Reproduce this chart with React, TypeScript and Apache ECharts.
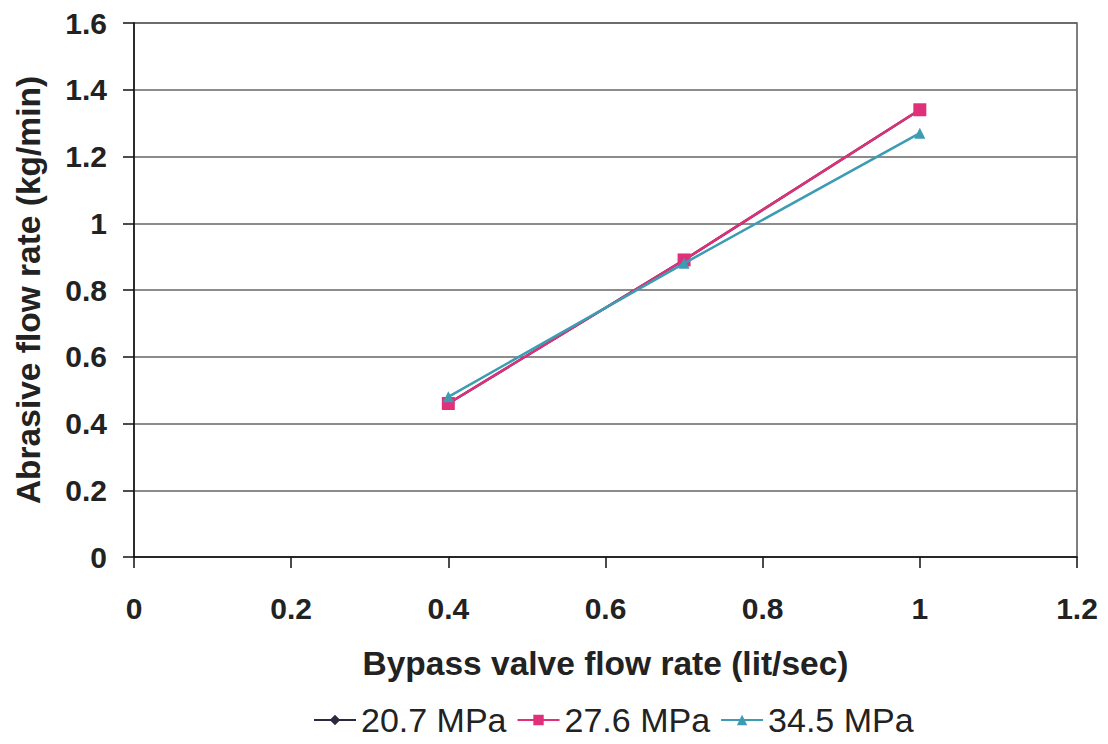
import React, { useEffect, useRef } from "react";
import * as echarts from "echarts";

const seriesNames = ["20.7 MPa", "27.6 MPa", "34.5 MPa"];
const xValues = [0.4, 0.7, 1.0];
const s207 = [0.46, 0.89, 1.34];
const s276 = [0.46, 0.89, 1.34];
const s345 = [0.48, 0.88, 1.27];

const colors = ["#2a2a3c", "#e0307a", "#3c9cb4"];
const symbols = ["diamond", "rect", "triangle"];
const symbolSizes = [11, 13, 11];

export default function App() {
  const ref = useRef<HTMLDivElement>(null);
  useEffect(() => {
    const chart = echarts.init(ref.current!, null, { renderer: "svg" });
    const data = [s207, s276, s345];
    const font = "'Liberation Sans', Arial, sans-serif";
    chart.setOption({
      animation: false,
      backgroundColor: "#ffffff",
      grid: {
        left: 134,
        right: 31,
        top: 23,
        bottom: 187,
        show: true,
        borderColor: "#555555",
        borderWidth: 1.5,
      },
      legend: {
        bottom: 2,
        left: 308,
        itemWidth: 42,
        itemHeight: 13,
        itemGap: 10,
        textStyle: { fontFamily: font, fontSize: 34, color: "#222222" },
        data: seriesNames,
      },
      xAxis: {
        type: "value",
        min: 0,
        max: 1.2,
        interval: 0.2,
        name: "Bypass valve flow rate (lit/sec)",
        nameLocation: "middle",
        nameGap: 89,
        nameTextStyle: { fontFamily: font, fontSize: 33.5, fontWeight: "bold", color: "#222222" },
        axisLine: { show: true, lineStyle: { color: "#111111", width: 1.5 } },
        axisTick: { show: true, length: 11, lineStyle: { color: "#111111", width: 1.5 } },
        axisLabel: {
          margin: 36,
          fontFamily: font,
          fontSize: 30,
          fontWeight: "bold",
          color: "#222222",
          formatter: (v: number) => String(Math.round(v * 10) / 10),
        },
        splitLine: { show: false },
      },
      yAxis: {
        type: "value",
        min: 0,
        max: 1.6,
        interval: 0.2,
        name: "Abrasive flow rate (kg/min)",
        nameLocation: "middle",
        nameGap: 89,
        nameTextStyle: { fontFamily: font, fontSize: 33.5, fontWeight: "bold", color: "#222222" },
        axisLine: { show: true, lineStyle: { color: "#111111", width: 1.5 } },
        axisTick: { show: true, length: 11, lineStyle: { color: "#111111", width: 1.5 } },
        axisLabel: {
          margin: 27,
          fontFamily: font,
          fontSize: 30,
          fontWeight: "bold",
          color: "#222222",
          formatter: (v: number) => String(Math.round(v * 10) / 10),
        },
        splitLine: { show: true, lineStyle: { color: "#666666", width: 1.5 } },
      },
      series: seriesNames.map((name, i) => ({
        name,
        type: "line",
        data: xValues.map((x, j) => [x, data[i][j]]),
        symbol: symbols[i],
        symbolSize: symbolSizes[i],
        showSymbol: true,
        color: colors[i],
        lineStyle: { color: colors[i], width: 2.5 },
        itemStyle: { color: colors[i] },
        z: 2 + i,
      })),
    });
    return () => chart.dispose();
  }, []);
  return (
    <div
      ref={ref}
      style={{ position: "fixed", left: 0, top: 0, width: 1108, height: 744 }}
    />
  );
}
